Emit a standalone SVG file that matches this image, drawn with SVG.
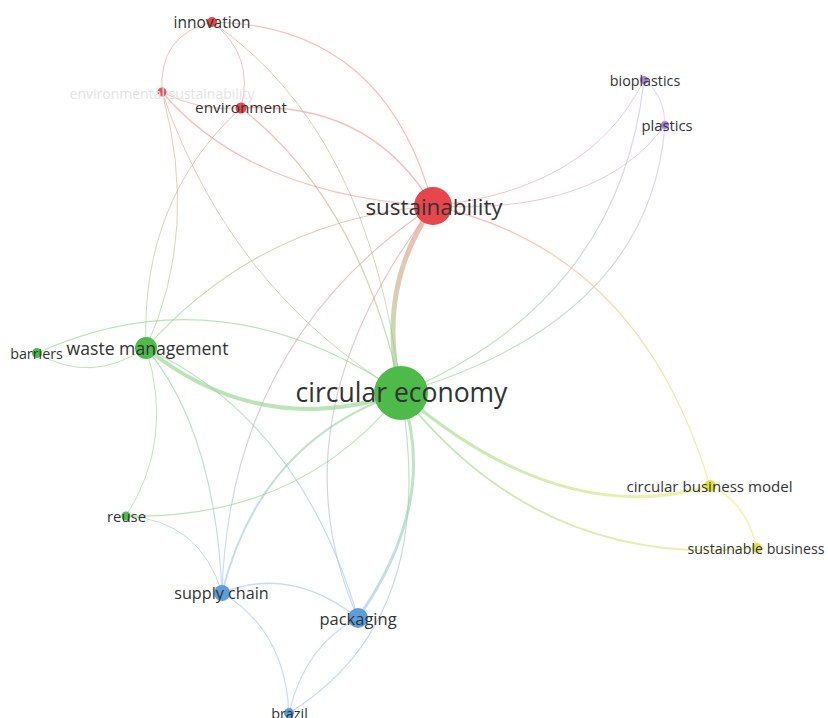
<svg xmlns="http://www.w3.org/2000/svg" width="828" height="718" viewBox="0 0 828 718">
<style>
.e{fill:none;stroke-linecap:round;stroke-opacity:0.6}
.r{stroke:#f0958e}.g{stroke:#8ed488}.b{stroke:#a3c5e8}.p{stroke:#cbb6ec}.y{stroke:#ecec6e}
.lbl{font-family:"Open Sans","DejaVu Sans",sans-serif;fill:#333;text-anchor:middle;dominant-baseline:central}
.nr{fill:#e6464c}.ng{fill:#4dba49}.nb{fill:#5b9edb}.np{fill:#a883dc}.ny{fill:#e2e23e}
</style>
<defs>
<linearGradient id="g4" gradientUnits="userSpaceOnUse" x1="212" y1="22" x2="401" y2="393"><stop offset="0" stop-color="#f0958e"/><stop offset="1" stop-color="#8ed488"/></linearGradient>
<linearGradient id="g7" gradientUnits="userSpaceOnUse" x1="162" y1="92" x2="401" y2="393"><stop offset="0" stop-color="#f0958e"/><stop offset="1" stop-color="#8ed488"/></linearGradient>
<linearGradient id="g8" gradientUnits="userSpaceOnUse" x1="162" y1="92" x2="146" y2="348"><stop offset="0" stop-color="#f0958e"/><stop offset="1" stop-color="#8ed488"/></linearGradient>
<linearGradient id="g9" gradientUnits="userSpaceOnUse" x1="241" y1="108" x2="146" y2="348"><stop offset="0" stop-color="#f0958e"/><stop offset="1" stop-color="#8ed488"/></linearGradient>
<linearGradient id="g11" gradientUnits="userSpaceOnUse" x1="241" y1="108" x2="401" y2="393"><stop offset="0" stop-color="#f0958e"/><stop offset="1" stop-color="#8ed488"/></linearGradient>
<linearGradient id="g12" gradientUnits="userSpaceOnUse" x1="433" y1="206" x2="146" y2="348"><stop offset="0" stop-color="#f0958e"/><stop offset="1" stop-color="#8ed488"/></linearGradient>
<linearGradient id="g13" gradientUnits="userSpaceOnUse" x1="433" y1="206" x2="401" y2="393"><stop offset="0" stop-color="#ef8a84"/><stop offset="1" stop-color="#8ad384"/></linearGradient>
<linearGradient id="g14" gradientUnits="userSpaceOnUse" x1="433" y1="206" x2="644" y2="80"><stop offset="0" stop-color="#f0958e"/><stop offset="1" stop-color="#cbb6ec"/></linearGradient>
<linearGradient id="g15" gradientUnits="userSpaceOnUse" x1="433" y1="206" x2="665" y2="125"><stop offset="0" stop-color="#f0958e"/><stop offset="1" stop-color="#cbb6ec"/></linearGradient>
<linearGradient id="g16" gradientUnits="userSpaceOnUse" x1="433" y1="206" x2="710" y2="486"><stop offset="0" stop-color="#f0958e"/><stop offset="1" stop-color="#ecec6e"/></linearGradient>
<linearGradient id="g17" gradientUnits="userSpaceOnUse" x1="433" y1="206" x2="222" y2="593"><stop offset="0" stop-color="#f0958e"/><stop offset="1" stop-color="#a3c5e8"/></linearGradient>
<linearGradient id="g18" gradientUnits="userSpaceOnUse" x1="433" y1="206" x2="358" y2="618"><stop offset="0" stop-color="#f0958e"/><stop offset="1" stop-color="#a3c5e8"/></linearGradient>
<linearGradient id="g23" gradientUnits="userSpaceOnUse" x1="401" y1="393" x2="222" y2="593"><stop offset="0" stop-color="#8ed488"/><stop offset="1" stop-color="#a3c5e8"/></linearGradient>
<linearGradient id="g24" gradientUnits="userSpaceOnUse" x1="401" y1="393" x2="358" y2="618"><stop offset="0" stop-color="#8ed488"/><stop offset="1" stop-color="#a3c5e8"/></linearGradient>
<linearGradient id="g25" gradientUnits="userSpaceOnUse" x1="401" y1="393" x2="289" y2="713"><stop offset="0" stop-color="#8ed488"/><stop offset="1" stop-color="#a3c5e8"/></linearGradient>
<linearGradient id="g26" gradientUnits="userSpaceOnUse" x1="401" y1="393" x2="710" y2="486"><stop offset="0" stop-color="#8ed488"/><stop offset="1" stop-color="#ecec6e"/></linearGradient>
<linearGradient id="g27" gradientUnits="userSpaceOnUse" x1="401" y1="393" x2="757" y2="548"><stop offset="0" stop-color="#8ed488"/><stop offset="1" stop-color="#ecec6e"/></linearGradient>
<linearGradient id="g28" gradientUnits="userSpaceOnUse" x1="401" y1="393" x2="644" y2="80"><stop offset="0" stop-color="#8ed488"/><stop offset="1" stop-color="#cbb6ec"/></linearGradient>
<linearGradient id="g29" gradientUnits="userSpaceOnUse" x1="401" y1="393" x2="665" y2="125"><stop offset="0" stop-color="#8ed488"/><stop offset="1" stop-color="#cbb6ec"/></linearGradient>
<linearGradient id="g33" gradientUnits="userSpaceOnUse" x1="146" y1="348" x2="222" y2="593"><stop offset="0" stop-color="#8ed488"/><stop offset="1" stop-color="#a3c5e8"/></linearGradient>
<linearGradient id="g34" gradientUnits="userSpaceOnUse" x1="146" y1="348" x2="358" y2="618"><stop offset="0" stop-color="#8ed488"/><stop offset="1" stop-color="#a3c5e8"/></linearGradient>
<linearGradient id="g35" gradientUnits="userSpaceOnUse" x1="126" y1="516" x2="222" y2="593"><stop offset="0" stop-color="#8ed488"/><stop offset="1" stop-color="#a3c5e8"/></linearGradient>
</defs>
<rect width="828" height="718" fill="#ffffff"/>
<g id="connectors">
<path class="e r" stroke-width="1.2" d="M212,22 Q385,25 433,206"/>
<path class="e r" stroke-width="1" d="M212,22 Q158,35 162,92"/>
<path class="e r" stroke-width="1" d="M212,22 Q255,55 241,108"/>
<path class="e" stroke="url(#g4)" stroke-width="1" d="M212,22 Q370,130 401,393"/>
<path class="e r" stroke-width="1" d="M162,92 Q200,112 241,108"/>
<path class="e r" stroke-width="1.2" d="M162,92 Q250,195 433,206"/>
<path class="e" stroke="url(#g7)" stroke-width="1" d="M162,92 Q230,290 401,393"/>
<path class="e" stroke="url(#g8)" stroke-width="1" d="M162,92 Q200,230 146,348"/>
<path class="e" stroke="url(#g9)" stroke-width="1" d="M241,108 Q140,200 146,348"/>
<path class="e r" stroke-width="1.5" d="M241,108 Q370,100 433,206"/>
<path class="e" stroke="url(#g11)" stroke-width="1.3" d="M241,108 Q360,200 401,393"/>
<path class="e" stroke="url(#g12)" stroke-width="1.2" d="M433,206 Q260,220 146,348"/>
<path class="e" stroke="url(#g13)" stroke-width="5" d="M433,206 Q375,290 401,393"/>
<path class="e" stroke="url(#g14)" stroke-width="1" d="M433,206 Q590,190 644,80"/>
<path class="e" stroke="url(#g15)" stroke-width="1" d="M433,206 Q600,215 665,125"/>
<path class="e" stroke="url(#g16)" stroke-width="1.3" d="M433,206 Q640,250 710,486"/>
<path class="e" stroke="url(#g17)" stroke-width="1.2" d="M433,206 Q230,340 222,593"/>
<path class="e" stroke="url(#g18)" stroke-width="1.2" d="M433,206 Q270,420 358,618"/>
<path class="e g" stroke-width="4" d="M401,393 Q260,440 146,348"/>
<path class="e g" stroke-width="1.2" d="M401,393 Q220,270 37,353"/>
<path class="e g" stroke-width="1" d="M37,353 Q90,385 146,348"/>
<path class="e g" stroke-width="1.2" d="M401,393 Q300,520 126,516"/>
<path class="e" stroke="url(#g23)" stroke-width="2" d="M401,393 Q260,440 222,593"/>
<path class="e" stroke="url(#g24)" stroke-width="3" d="M401,393 Q440,500 358,618"/>
<path class="e" stroke="url(#g25)" stroke-width="1.2" d="M401,393 Q440,620 289,713"/>
<path class="e" stroke="url(#g26)" stroke-width="3" d="M401,393 Q560,530 710,486"/>
<path class="e" stroke="url(#g27)" stroke-width="2" d="M401,393 Q540,570 757,548"/>
<path class="e" stroke="url(#g28)" stroke-width="1.2" d="M401,393 Q620,300 644,80"/>
<path class="e" stroke="url(#g29)" stroke-width="1.2" d="M401,393 Q650,320 665,125"/>
<path class="e p" stroke-width="1" d="M644,80 Q665,95 665,125"/>
<path class="e y" stroke-width="1.5" d="M710,486 Q745,500 757,548"/>
<path class="e g" stroke-width="1" d="M146,348 Q175,440 126,516"/>
<path class="e" stroke="url(#g33)" stroke-width="1.2" d="M146,348 Q215,430 222,593"/>
<path class="e" stroke="url(#g34)" stroke-width="1.2" d="M146,348 Q300,420 358,618"/>
<path class="e" stroke="url(#g35)" stroke-width="1" d="M126,516 Q200,520 222,593"/>
<path class="e b" stroke-width="1.5" d="M222,593 Q290,565 358,618"/>
<path class="e b" stroke-width="1.2" d="M222,593 Q285,630 289,713"/>
<path class="e b" stroke-width="1.2" d="M358,618 Q305,645 289,713"/>
</g>
<g id="node-innovation"><circle class="nr" cx="212" cy="22" r="5"/><text class="lbl" x="212" y="22" font-size="15.5">innovation</text></g>
<g id="node-environmental-sustainability"><circle class="nr" cx="162" cy="92" r="4.5" opacity="0.9"/><text class="lbl" x="162" y="93" font-size="14" style="fill:#e4e4e4">environmental sustainability</text></g>
<g id="node-environment"><circle class="nr" cx="241" cy="108" r="5.5"/><text class="lbl" x="241" y="107" font-size="15.3">environment</text></g>
<g id="node-sustainability"><circle class="nr" cx="433" cy="206" r="19"/><text class="lbl" x="434" y="206" font-size="22.4">sustainability</text></g>
<g id="node-bioplastics"><circle class="np" cx="644" cy="80" r="4"/><text class="lbl" x="645" y="80" font-size="14.3">bioplastics</text></g>
<g id="node-plastics"><circle class="np" cx="665" cy="125" r="4"/><text class="lbl" x="667" y="125" font-size="14.8">plastics</text></g>
<g id="node-circular-economy"><circle class="ng" cx="401" cy="393" r="27"/><text class="lbl" x="401.5" y="392" font-size="26.5">circular economy</text></g>
<g id="node-waste-management"><circle class="ng" cx="146" cy="348" r="11"/><text class="lbl" x="147.5" y="348" font-size="17.6">waste management</text></g>
<g id="node-barriers"><circle class="ng" cx="37" cy="353" r="5"/><text class="lbl" x="36.5" y="353" font-size="14.3">barriers</text></g>
<g id="node-circular-business-model"><circle class="ny" cx="710" cy="486" r="6"/><text class="lbl" x="709.5" y="486" font-size="15.1">circular business model</text></g>
<g id="node-sustainable-business"><circle class="ny" cx="757" cy="548" r="5"/><text class="lbl" x="756" y="548" font-size="14.2">sustainable business</text></g>
<g id="node-reuse"><circle class="ng" cx="126" cy="516" r="4.5"/><text class="lbl" x="126.5" y="516" font-size="14.9">reuse</text></g>
<g id="node-supply-chain"><circle class="nb" cx="222" cy="593" r="8"/><text class="lbl" x="221.5" y="593" font-size="16.2">supply chain</text></g>
<g id="node-packaging"><circle class="nb" cx="358" cy="618" r="10"/><text class="lbl" x="358" y="618" font-size="16.5">packaging</text></g>
<g id="node-brazil"><circle class="nb" cx="289" cy="713" r="5"/><text class="lbl" x="289.5" y="713" font-size="14.4">brazil</text></g>
</svg>
